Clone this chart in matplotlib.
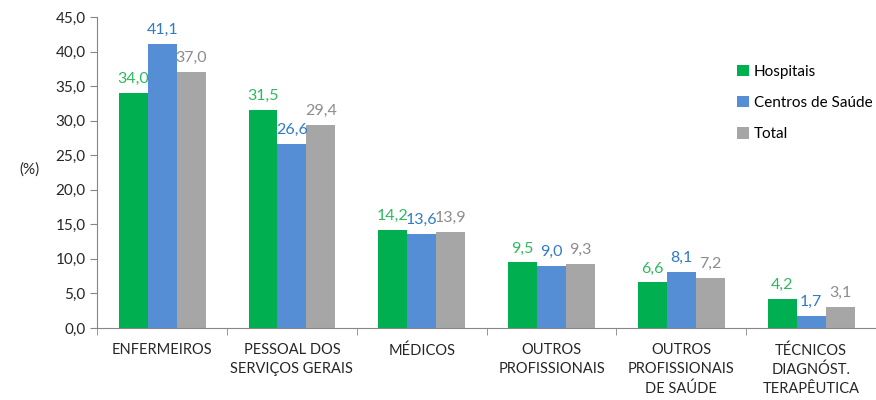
import numpy as np
import matplotlib.pyplot as plt
from matplotlib.ticker import FuncFormatter

plt.rcParams['font.family'] = ['Lato', 'DejaVu Sans']

categories = ['ENFERMEIROS', 'PESSOAL DOS\nSERVIÇOS GERAIS', 'MÉDICOS',
              'OUTROS\nPROFISSIONAIS', 'OUTROS\nPROFISSIONAIS\nDE SAÚDE',
              'TÉCNICOS\nDIAGNÓST.\nTERAPÊUTICA']
hospitais = [34.0, 31.5, 14.2, 9.5, 6.6, 4.2]
centros = [41.1, 26.6, 13.6, 9.0, 8.1, 1.7]
total = [37.0, 29.4, 13.9, 9.3, 7.2, 3.1]

series = [('Hospitais', hospitais, '#00B050', '#2DB85F'),
          ('Centros de Saúde', centros, '#558ED5', '#2F7BC4'),
          ('Total', total, '#A6A6A6', '#8C8C8C')]

fig = plt.figure(figsize=(8.76, 4), dpi=100)
ax = fig.add_axes([0.111, 0.18, 0.889, 0.7775])

x = np.arange(len(categories))
w = 0.223
for i, (name, vals, col, lcol) in enumerate(series):
    pos = x + (i - 1) * w
    ax.bar(pos, vals, w, color=col, label=name)
    for p, v in zip(pos, vals):
        ax.text(p, v + 1.0, f'{v:.1f}'.replace('.', ','), ha='center', va='bottom',
                color=lcol, fontsize=11.5)

ax.set_xlim(-0.5, len(categories) - 0.5)
ax.set_ylim(0, 45)
ax.set_yticks(np.arange(0, 46, 5))
ax.yaxis.set_major_formatter(FuncFormatter(lambda v, _: f'{v:.1f}'.replace('.', ',')))

ax.set_xticks(x)
ax.set_xticklabels(categories, fontsize=10.5, color='#262626', linespacing=1.45)
ax.set_xticks(np.arange(-0.5, len(categories)), minor=True)
ax.tick_params(axis='x', which='major', length=0, pad=11)
ax.tick_params(axis='x', which='minor', length=5, color='#868686')
ax.tick_params(axis='y', length=5, color='#868686', labelsize=11, labelcolor='#262626')

for s in ['top', 'right']:
    ax.spines[s].set_visible(False)
for s in ['left', 'bottom']:
    ax.spines[s].set_color('#868686')

fig.text(0.022, 0.575, '(%)', fontsize=11, color='#262626', va='center')

ax.legend(loc='upper left', bbox_to_anchor=(0.808, 0.88), frameon=False,
          handlelength=0.75, handleheight=0.75, handletextpad=0.35,
          labelspacing=1.12, fontsize=11, borderaxespad=0.3)

fig.savefig('out.png', dpi=100)
